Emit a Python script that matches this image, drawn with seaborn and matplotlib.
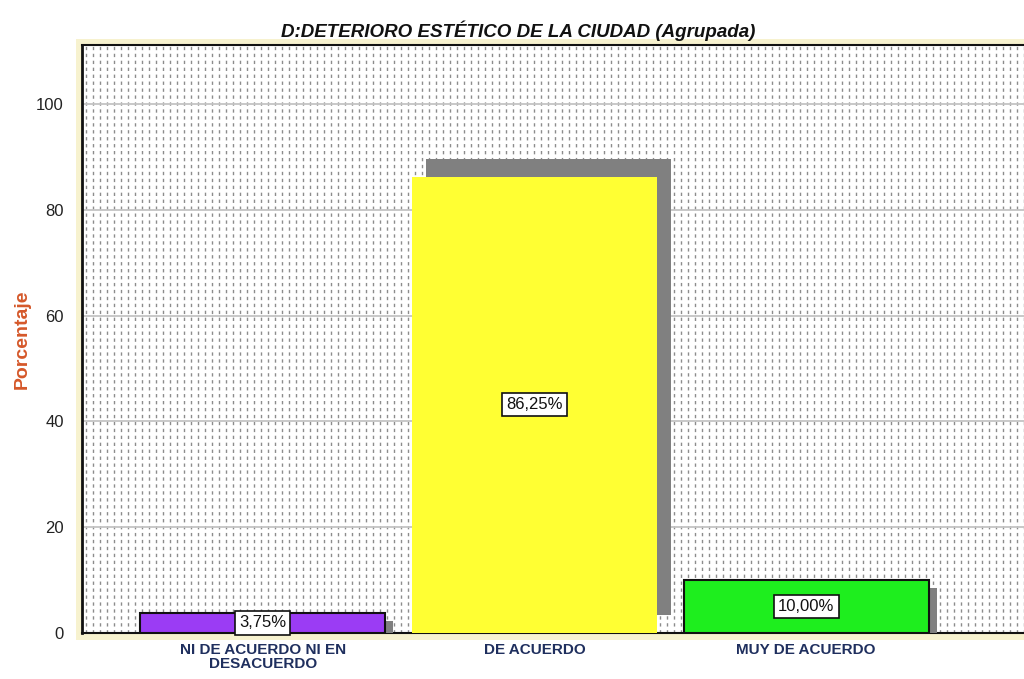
# import libraries
import numpy as np
import pandas as pd
import matplotlib
matplotlib.use('Agg')
import matplotlib.pyplot as plt
import matplotlib.patheffects as pe
from matplotlib.patches import Rectangle
import seaborn as sns

# chart data
categories = ['NI DE ACUERDO NI EN\nDESACUERDO', 'DE ACUERDO', 'MUY DE ACUERDO']
percentages = [3.75, 86.25, 10.00]
bar_labels = ['3,75%', '86,25%', '10,00%']
bar_colors = ['#9B3CF4', '#FFFF33', '#1EEE1E']
y_ticks = [0, 20, 40, 60, 80, 100]

data = pd.DataFrame({'categoria': categories, 'porcentaje': percentages})

sns.set_style('white')
plt.rcParams['font.family'] = ['Liberation Sans', 'DejaVu Sans']

fig = plt.figure(figsize=(10.24, 6.79), dpi=100)
ax = fig.add_axes([0.080, 0.068, 0.925, 0.866])

# cream frame behind the plot area
fig.patches.append(Rectangle((0.074, 0.057), 0.94, 0.886, transform=fig.transFigure,
                             facecolor='#F7F2CF', edgecolor='none', zorder=-1))

sns.barplot(data=data, x='categoria', y='porcentaje', hue='categoria',
            palette=bar_colors, width=0.9, saturation=1, legend=False, ax=ax, zorder=3)

# drop shadows and edges
shadow_offsets = [(6, -6), (10, 13), (6, -6)]
for patch, off, col in zip(ax.patches, shadow_offsets, bar_colors):
    patch.set_path_effects([pe.SimplePatchShadow(offset=off, shadow_rgbFace='#808080', alpha=1.0),
                            pe.Normal()])
    if col != '#FFFF33':
        patch.set_edgecolor('#111111')
        patch.set_linewidth(1.5)
    else:
        patch.set_edgecolor('none')

# value labels in boxes
for i, (val, lab) in enumerate(zip(percentages, bar_labels)):
    ax.text(i, val / 2, lab, ha='center', va='center', fontsize=12, color='#111111', zorder=5,
            bbox=dict(boxstyle='square,pad=0.25', facecolor='white', edgecolor='#111111', linewidth=1.2))

ax.set_xlim(-0.665, 2.82)
ax.set_ylim(0, 111.2)
ax.set_yticks(y_ticks)

# dotted vertical texture and horizontal grid
xs = np.arange(0.004, 1.0, 7 / 947)
ax.vlines(xs, 0, 1, transform=ax.transAxes, colors='#8C8C8C', linewidth=1.0,
          linestyles=(0, (2.4, 2.6)), zorder=0.5)
for t in y_ticks[1:]:
    ax.axhline(t, color='#C4C4C4', linewidth=1.3, zorder=0.6)

ax.tick_params(axis='both', length=0)
ax.tick_params(axis='y', pad=13, labelsize=12, labelcolor='#222222')
ax.tick_params(axis='x', pad=7)
for lbl in ax.get_xticklabels():
    lbl.set_fontweight('bold')
    lbl.set_fontsize(11)
    lbl.set_color('#1F2F5E')
    lbl.set_linespacing(1.0)

ax.set_xlabel('')
ax.set_ylabel('Porcentaje', fontsize=14, fontweight='bold', color='#D5582A', labelpad=4)

for side in ['left', 'top', 'bottom']:
    ax.spines[side].set_color('#111111')
ax.spines['left'].set_linewidth(2)
ax.spines['top'].set_linewidth(1.5)
ax.spines['bottom'].set_linewidth(1.5)
ax.spines['right'].set_visible(False)

fig.text(0.506, 0.955, 'D:DETERIORO ESTÉTICO DE LA CIUDAD (Agrupada)', ha='center', va='center',
         fontsize=13.5, fontweight='bold', fontstyle='italic', color='#111111')

fig.savefig('out.png', dpi=100)
